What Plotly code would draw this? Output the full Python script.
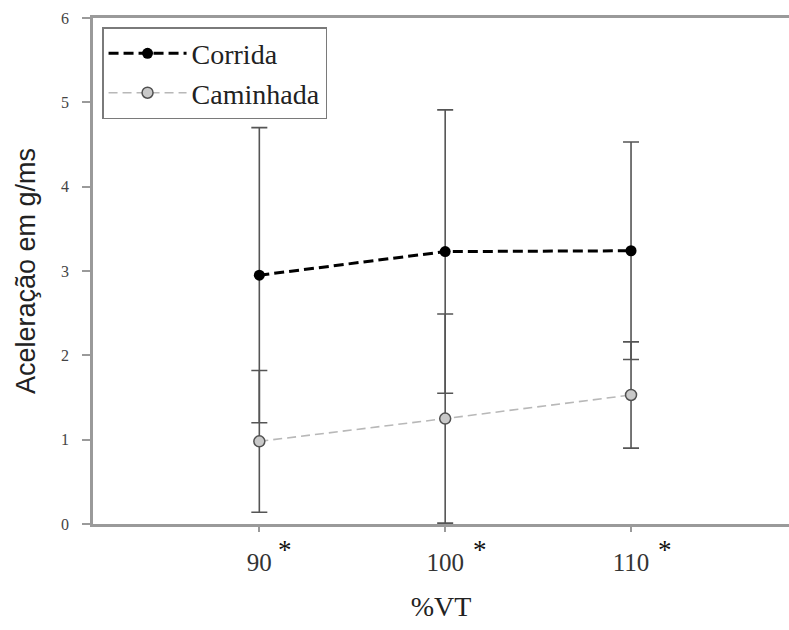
import plotly.graph_objects as go

# %VT intensities and acceleration (g/ms): mean and standard deviation
vt_levels = [90, 100, 110]
tick_labels = ["90", "100", "110"]

corrida_mean = [2.95, 3.23, 3.24]
corrida_sd = [1.75, 1.68, 1.29]

caminhada_mean = [0.98, 1.25, 1.53]
caminhada_sd = [0.84, 1.24, 0.63]

serif = "Liberation Serif, Times New Roman, serif"
sans = "Liberation Sans, Arial, sans-serif"
axis_grey = "#9a9a9a"
bar_grey = "#555555"

fig = go.Figure()

fig.add_trace(go.Scatter(
    x=vt_levels, y=caminhada_mean, name="Caminhada",
    mode="lines+markers",
    line=dict(color="#b8b8b8", width=1.6, dash="9px,5px"),
    marker=dict(size=11, color="#c9c9c9", line=dict(color="#505050", width=1.5)),
    error_y=dict(type="data", array=caminhada_sd, visible=True,
                 color=bar_grey, thickness=1.6, width=8),
))

fig.add_trace(go.Scatter(
    x=vt_levels, y=corrida_mean, name="Corrida",
    mode="lines+markers",
    line=dict(color="#000000", width=3, dash="10px,5px"),
    marker=dict(size=11, color="#000000"),
    error_y=dict(type="data", array=corrida_sd, visible=True,
                 color=bar_grey, thickness=1.6, width=8),
))

# significance asterisks just after each %VT tick label
for v, lab in zip(vt_levels, tick_labels):
    fig.add_annotation(
        x=v, xref="x", y=-0.052, yref="paper",
        text="*", showarrow=False, xshift=8 + 8.8 * len(lab),
        font=dict(family=serif, size=27, color="#111111"),
        yanchor="middle", xanchor="center",
    )

fig.update_layout(
    width=789, height=630,
    margin=dict(l=93, r=0, t=18, b=106),
    paper_bgcolor="white", plot_bgcolor="white",
    font=dict(family=serif, color="#222222"),
    showlegend=True,
    legend=dict(
        x=0.013, y=0.982, xanchor="left", yanchor="top",
        bgcolor="white", bordercolor="#7a7a7a", borderwidth=1.5,
        font=dict(family=serif, size=28, color="#222222"),
        traceorder="reversed", itemwidth=78,
    ),
    xaxis=dict(
        range=[81.05, 118.5],
        tickmode="array", tickvals=vt_levels, ticktext=tick_labels,
        showline=True, linecolor=axis_grey, linewidth=2.5, mirror=True,
        ticks="outside", ticklen=5, tickcolor=axis_grey, tickwidth=1.5,
        showgrid=False, zeroline=False,
        tickfont=dict(family=serif, size=25, color="#333333"),
        ticklabelstandoff=9,
        title=dict(text="%VT", font=dict(family=serif, size=28, color="#222222"),
                   standoff=22),
    ),
    yaxis=dict(
        range=[0, 6], dtick=1,
        showline=True, linecolor=axis_grey, linewidth=2.5,
        ticks="outside", ticklen=8, tickcolor=axis_grey, tickwidth=1.5,
        showgrid=False, zeroline=False,
        tickfont=dict(family=serif, size=16, color="#444444"),
        ticklabelstandoff=10,
        title=dict(text="Aceleração em g/ms", font=dict(family=sans, size=27, color="#222222"),
                   standoff=18),
    ),
)

fig.write_html("out.html")
